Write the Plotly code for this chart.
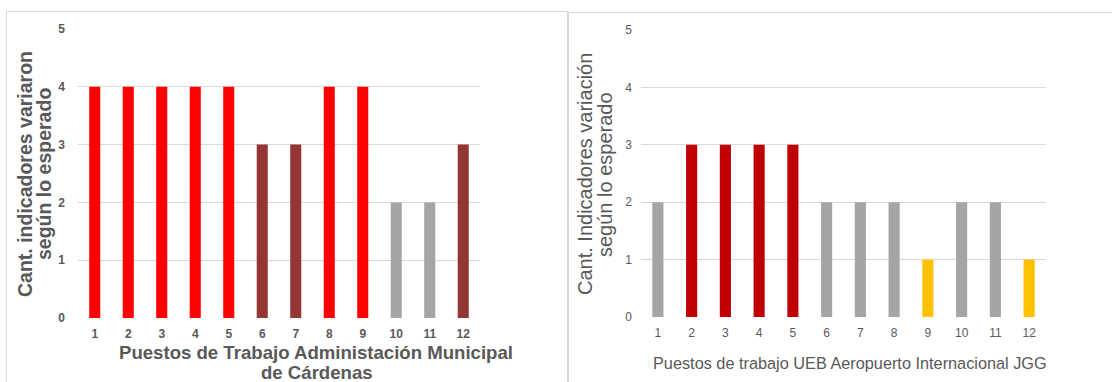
import plotly.graph_objects as go

# Puestos de trabajo (categorías del eje X)
puestos = [str(i) for i in range(1, 13)]

# Cantidad de indicadores que variaron según lo esperado
cardenas = [4, 4, 4, 4, 4, 3, 3, 4, 4, 2, 2, 3]
aeropuerto = [2, 3, 3, 3, 3, 2, 2, 2, 1, 2, 2, 1]

y_ticks = [0, 1, 2, 3, 4, 5]

# Colores por nivel de valor en cada panel
colores_cardenas = {4: "#FF0000", 3: "#943634", 2: "#A5A5A5"}
colores_aeropuerto = {3: "#C00000", 2: "#A5A5A5", 1: "#FFC000"}

W, H = 1112, 382
GRID = "#D9D9D9"
TXT = "#595959"
FONT = "Liberation Sans, Arial, sans-serif"


def px_x(v):
    return v / W


def px_y(v):
    return 1 - v / H


fig = go.Figure()

fig.add_trace(go.Bar(
    x=puestos, y=cardenas,
    marker=dict(color=[colores_cardenas[v] for v in cardenas], line=dict(width=0)),
    xaxis="x", yaxis="y", showlegend=False, hoverinfo="x+y",
))
fig.add_trace(go.Bar(
    x=puestos, y=aeropuerto,
    marker=dict(color=[colores_aeropuerto[v] for v in aeropuerto], line=dict(width=0)),
    xaxis="x2", yaxis="y2", showlegend=False, hoverinfo="x+y",
))

axis_common = dict(showline=False, zeroline=False, fixedrange=True, automargin=False)

fig.update_layout(
    width=W, height=H,
    margin=dict(l=0, r=0, t=0, b=0, pad=0),
    autosize=False,
    paper_bgcolor="white", plot_bgcolor="white",
    bargap=0.67,
    font=dict(family=FONT, color=TXT),
    xaxis=dict(domain=[px_x(78), px_x(480)], anchor="y", type="category",
               showgrid=False, ticks="", ticklabelstandoff=7,
               tickfont=dict(size=12, color=TXT, family=FONT, weight="bold"), **axis_common),
    yaxis=dict(domain=[px_y(318), px_y(29)], anchor="x", range=[0, 5],
               tickvals=y_ticks, showgrid=True, gridcolor=GRID, gridwidth=1,
               ticks="", ticklabelstandoff=12,
               tickfont=dict(size=12, color=TXT, family=FONT, weight="bold"), **axis_common),
    xaxis2=dict(domain=[px_x(641), px_x(1046)], anchor="y2", type="category",
                showgrid=False, ticks="", ticklabelstandoff=7,
                tickfont=dict(size=12, color=TXT, family=FONT), **axis_common),
    yaxis2=dict(domain=[px_y(317), px_y(30)], anchor="x2", range=[0, 5],
                tickvals=y_ticks, showgrid=True, gridcolor=GRID, gridwidth=1,
                ticks="", ticklabelstandoff=8,
                tickfont=dict(size=12, color=TXT, family=FONT), **axis_common),
)

# Marcos de cada gráfico
fig.add_shape(type="rect", xref="paper", yref="paper",
              x0=px_x(6.5), x1=px_x(567.5), y0=px_y(400), y1=px_y(11.5),
              line=dict(color=GRID, width=1), fillcolor="rgba(0,0,0,0)", layer="below")
fig.add_shape(type="rect", xref="paper", yref="paper",
              x0=px_x(568.5), x1=px_x(1130), y0=px_y(400), y1=px_y(12.5),
              line=dict(color=GRID, width=1), fillcolor="rgba(0,0,0,0)", layer="below")


def texto(t, x, y, size, bold=False, angle=0):
    fig.add_annotation(
        text=f"<b>{t}</b>" if bold else t,
        xref="paper", yref="paper", x=px_x(x), y=px_y(y),
        textangle=angle, showarrow=False, xanchor="center", yanchor="middle",
        font=dict(size=size, color=TXT, family=FONT),
    )


# Títulos de ejes (una anotación por línea)
texto("Cant. indicadores variaron", 25, 174, 19.5, bold=True, angle=-90)
texto("según lo esperado", 44, 174, 19.5, bold=True, angle=-90)
texto("Puestos de Trabajo Administación Municipal", 316, 352, 18.6, bold=True)
texto("de Cárdenas", 317, 372, 18.6, bold=True)

texto("Cant. Indicadores variación", 585, 174, 20, angle=-90)
texto("según lo esperado", 605, 174, 20, angle=-90)
texto("Puestos de trabajo UEB Aeropuerto Internacional JGG", 850, 363, 16.3)

fig.write_html("out.html")
